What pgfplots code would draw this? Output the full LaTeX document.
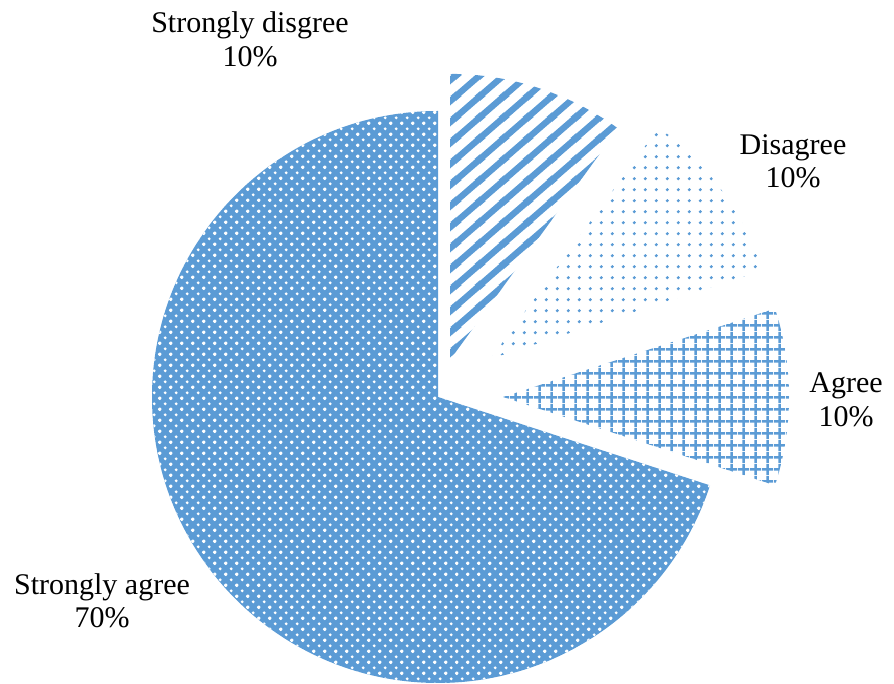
\documentclass[border=0pt]{standalone}
\usepackage{fontspec}
\setmainfont{Liberation Serif}
\usepackage{pgfplots}
\pgfplotsset{compat=1.18}
\usetikzlibrary{patterns.meta}

\definecolor{exblue}{HTML}{5B9BD5}

% white dots on the big slice (staggered)
\tikzdeclarepattern{
  name=wdots, type=uncolored,
  bounding box={(0,0) and (10.7pt,10.7pt)},
  tile size={(10.7pt,10.7pt)},
  code={
    \fill (0pt,0pt) circle (1.6pt);
    \fill (10.7pt,0pt) circle (1.6pt);
    \fill (0pt,10.7pt) circle (1.6pt);
    \fill (10.7pt,10.7pt) circle (1.6pt);
    \fill (5.35pt,5.35pt) circle (1.6pt);
  }
}
% sparse dots
\tikzdeclarepattern{
  name=sdots, type=uncolored,
  bounding box={(0,0) and (10.8pt,10.8pt)},
  tile size={(10.8pt,10.8pt)},
  code={\fill (5.4pt,5.4pt) circle (1.7pt);}
}
% small grid
\tikzdeclarepattern{
  name=sgrid, type=uncolored,
  bounding box={(0,0) and (11.6pt,11.6pt)},
  tile size={(11.6pt,11.6pt)},
  code={
    \draw[line width=2.5pt] (0pt,5.8pt) -- (11.6pt,5.8pt);
    \draw[line width=2.5pt] (5.8pt,0pt) -- (5.8pt,11.6pt);
  }
}
% wide upward diagonal
\tikzdeclarepattern{
  name=wdiag, type=uncolored,
  bounding box={(0,0) and (24pt,21pt)},
  tile size={(24pt,21pt)},
  code={
    \draw[line width=6.5pt] (-48pt,-21pt) -- (24pt,42pt);
    \draw[line width=6.5pt] (-24pt,-21pt) -- (48pt,42pt);
    \draw[line width=6.5pt] (0pt,-21pt) -- (72pt,42pt);
  }
}

% #1 cumulative percent before, #2 percent, #3 explode, #4 style
\newcommand\slice[4]{%
  \pgfplotsextra{%
    \pgfmathsetmacro\aone{90-3.6*(#1+#2)}%
    \pgfmathsetmacro\atwo{90-3.6*#1}%
    \pgfmathsetmacro\amid{(\aone+\atwo)/2}%
    \pgfmathsetmacro\px{438+#3*cos(\amid)}%
    \pgfmathsetmacro\py{287+#3*sin(\amid)}%
    \path[#4] (axis cs:\px,\py) -- ++(\aone:286pt)
      arc[start angle=\aone, end angle=\atwo, radius=286pt] -- cycle;
  }%
}

\begin{document}
\begin{tikzpicture}
\begin{axis}[
    width=894pt, height=684pt,
    scale only axis,
    xmin=0, xmax=894, ymin=0, ymax=684,
    hide axis, clip=false,
  ]
  % Strongly disgree 10%, Disagree 10%, Agree 10%, Strongly agree 70%
  \slice{0}{10}{39}{pattern={wdiag}, pattern color=exblue}
  \slice{10}{10}{65}{pattern={sdots}, pattern color=exblue}
  \slice{20}{10}{65}{pattern={sgrid}, pattern color=exblue}
  \slice{30}{70}{0}{fill=exblue, postaction={pattern={wdots}, pattern color=white}}

  \pgfplotsextra{%
    \path (axis cs:0,0) rectangle (axis cs:894,684);
    \begingroup
    \fontsize{30}{34}\selectfont
    \node[anchor=base, inner sep=0] at (axis cs:250,651) {Strongly disgree};
    \node[anchor=base, inner sep=0] at (axis cs:250,617) {10\%};
    \node[anchor=base, inner sep=0] at (axis cs:793,529) {Disagree};
    \node[anchor=base, inner sep=0] at (axis cs:793,496) {10\%};
    \node[anchor=base, inner sep=0] at (axis cs:846,291) {Agree};
    \node[anchor=base, inner sep=0] at (axis cs:846,257) {10\%};
    \node[anchor=base, inner sep=0] at (axis cs:102,89) {Strongly agree};
    \node[anchor=base, inner sep=0] at (axis cs:102,56) {70\%};
    \endgroup
  }
\end{axis}
\end{tikzpicture}
\end{document}
